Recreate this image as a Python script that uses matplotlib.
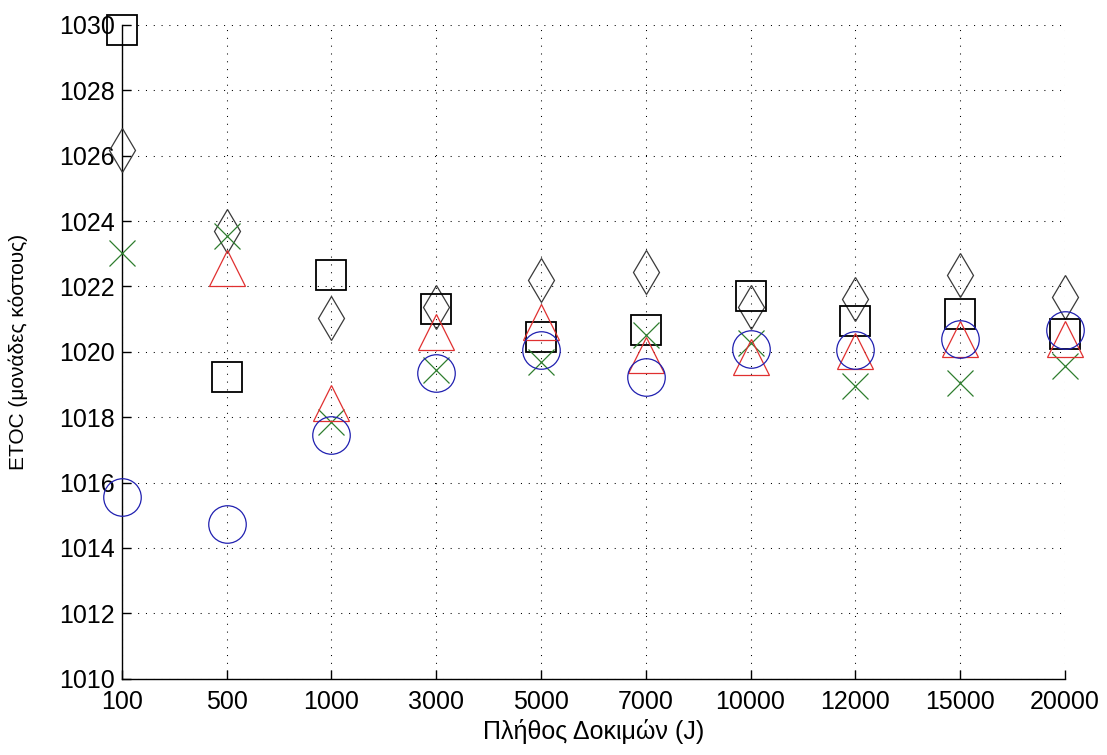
import numpy as np
import matplotlib
matplotlib.use("Agg")
import matplotlib.pyplot as plt
from matplotlib import font_manager

# number of trials (J) - plotted as equally spaced categories
trials = ["100", "500", "1000", "3000", "5000", "7000", "10000", "12000", "15000", "20000"]

# ETOC values for each method
etoc_square = [1029.85, 1019.23, 1022.35, 1021.32, 1020.45, 1020.66, 1021.71, 1020.95, 1021.16, 1020.54]
etoc_diamond = [1026.17, 1023.70, 1021.02, 1021.38, 1022.19, 1022.45, 1021.37, 1021.63, 1022.35, 1021.68]
etoc_cross = [1023.01, 1023.55, 1017.86, 1019.44, 1019.70, 1020.51, 1020.27, 1018.95, 1019.05, 1019.56]
etoc_triangle = [np.nan, 1022.55, 1018.44, 1020.61, 1020.90, 1019.90, 1019.84, 1020.02, 1020.40, 1020.38]
etoc_circle = [1015.56, 1014.73, 1017.47, 1019.34, 1020.05, 1019.24, 1020.10, 1020.07, 1020.38, 1020.66]

yticks = np.arange(1010, 1031, 2)

names = {f.name for f in font_manager.fontManager.ttflist}
if "Liberation Sans Narrow" in names:
    tick_font = "Liberation Sans Narrow"
    tick_size = 21
else:
    tick_font = "Liberation Sans"
    tick_size = 18
plt.rcParams['font.family'] = [tick_font, 'DejaVu Sans']

x = np.arange(len(trials))

fig = plt.figure(figsize=(11.07, 7.55), dpi=100)
ax = fig.add_axes([0.110, 0.101, 0.852, 0.866])

style = dict(linestyle='none', mfc='none', clip_on=False, zorder=3)
ax.plot(x, etoc_diamond, 'd', ms=22, mec='#3a3a3a', mew=0.9, **style)
ax.plot(x, etoc_square, 's', ms=21, mec='black', mew=1.3, **style)
ax.plot(x, etoc_cross, 'x', ms=19, mec='#2e7d2e', mew=0.9, **style)
ax.plot(x, etoc_triangle, '^', ms=26, mec='#e03030', mew=0.9, **style)
ax.plot(x, etoc_circle, 'o', ms=27, mec='#2020b0', mew=0.9, **style)

ax.set_xlim(0, len(trials) - 1)
ax.set_ylim(1010, 1030)
ax.set_xticks(x)
ax.set_xticklabels(trials)
ax.set_yticks(yticks)

ax.grid(True, color='black', linestyle=(0, (1, 6.5)), linewidth=0.75)
ax.spines['top'].set_visible(False)
ax.spines['right'].set_visible(False)
for s in ['left', 'bottom']:
    ax.spines[s].set_linewidth(1.0)
ax.tick_params(direction='in', length=6.5, width=1.0, labelsize=tick_size)
ax.tick_params(axis='y', pad=5)
ax.tick_params(axis='x', pad=8)

ax.set_xlabel("Πλήθος Δοκιμών (J)", fontsize=18, labelpad=4)
ax.set_ylabel("ETOC (μονάδες κόστους)", fontsize=15,
              family=['Liberation Sans', 'DejaVu Sans'], labelpad=22)

fig.savefig("out.png", dpi=100)
